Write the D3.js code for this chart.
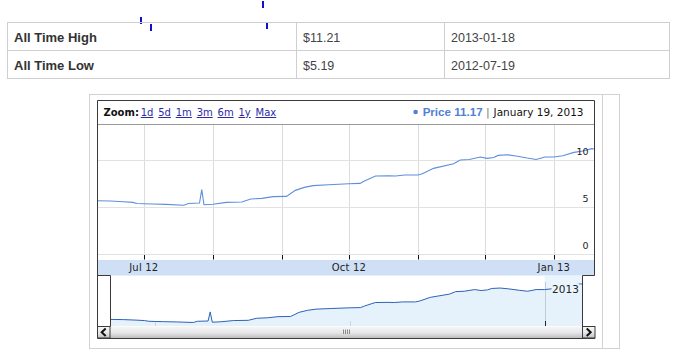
<!DOCTYPE html>
<html>
<head>
<meta charset="utf-8">
<script src="https://cdn.jsdelivr.net/npm/d3@7"></script>
<style>
  body { margin: 0; background: #fff; }
  svg { display: block; }
  text { font-family: "DejaVu Sans", Verdana, sans-serif; }
</style>
</head>
<body>
<svg id="chart" width="685" height="361"></svg>
<script>
// stats table
var statLabels = ["All Time High", "All Time Low"];
var statValues = ["$11.21", "$5.19"];
var statDates = ["2013-01-18", "2012-07-19"];

// price series
var priceDates = ["2012-06-10","2012-06-16","2012-06-22","2012-06-26","2012-06-28","2012-07-01","2012-07-05",
  "2012-07-11","2012-07-19","2012-07-21","2012-07-26","2012-07-27","2012-07-28","2012-08-01","2012-08-07",
  "2012-08-14","2012-08-18","2012-08-23","2012-08-28","2012-09-03","2012-09-07","2012-09-11","2012-09-15",
  "2012-09-22","2012-10-01","2012-10-06","2012-10-08","2012-10-13","2012-10-19","2012-10-22","2012-10-26",
  "2012-11-01","2012-11-03","2012-11-08","2012-11-17","2012-11-20","2012-11-24","2012-11-29","2012-12-02",
  "2012-12-05","2012-12-07","2012-12-11","2012-12-15","2012-12-20","2012-12-24","2012-12-28","2013-01-01",
  "2013-01-05","2013-01-10","2013-01-14","2013-01-18","2013-01-19"];
var priceValues = [5.67,5.64,5.56,5.49,5.38,5.35,5.32,
  5.28,5.19,5.38,5.42,6.84,5.24,5.30,5.49,
  5.53,5.85,5.92,6.10,6.13,6.77,7.09,7.27,
  7.37,7.48,7.51,7.77,8.30,8.33,8.30,8.40,
  8.40,8.54,9.11,9.61,10.00,10.06,10.32,10.17,
  10.27,10.49,10.56,10.43,10.21,10.06,10.32,10.32,
  10.46,10.81,10.96,11.21,11.17];
var yTicks = [0, 5, 10];
var zoomLinks = ["1d", "5d", "1m", "3m", "6m", "1y", "Max"];
var legendName = "Price";
var legendValue = "11.17";
var legendDate = "January 19, 2013";

var parse = d3.timeParse("%Y-%m-%d");
var data = priceDates.map((d, i) => ({date: parse(d), value: priceValues[i]}));

var svg = d3.select("#chart");
var px = v => Math.round(v) + 0.5;

//Stray blue marks above the table
[[140, 17], [150, 24], [262, 1], [266, 22]].forEach(p => {
    svg.append("rect").attr("x", p[0]).attr("y", p[1]).attr("width", 2).attr("height", 7).attr("fill", "#1010d0");
});

//Table
var table = {left: 7.5, right: 669.5, top: 22.5, rowH: 28, cols: [296.5, 444.5]};
var tg = svg.append("g");
tg.append("rect").attr("x", table.left).attr("y", table.top)
    .attr("width", table.right - table.left).attr("height", table.rowH * 2)
    .attr("fill", "none").attr("stroke", "#cfcfcf");
tg.append("line").attr("x1", table.left).attr("x2", table.right)
    .attr("y1", table.top + table.rowH).attr("y2", table.top + table.rowH).attr("stroke", "#cfcfcf");
table.cols.forEach(c => tg.append("line").attr("x1", c).attr("x2", c)
    .attr("y1", table.top).attr("y2", table.top + table.rowH * 2).attr("stroke", "#cfcfcf"));
statLabels.forEach((l, i) => {
    var y = table.top + table.rowH * i + 19.5;
    tg.append("text").attr("x", 14).attr("y", y).text(l)
        .style("font-family", "'Liberation Sans', Arial, sans-serif").style("font-weight", "bold")
        .style("font-size", "13px").attr("fill", "#333");
    tg.append("text").attr("x", 303).attr("y", y).text(statValues[i])
        .style("font-family", "'Liberation Sans', Arial, sans-serif").style("font-size", "12.5px").attr("fill", "#444");
    tg.append("text").attr("x", 451).attr("y", y).text(statDates[i])
        .style("font-family", "'Liberation Sans', Arial, sans-serif").style("font-size", "12.5px").attr("fill", "#444");
});

//Outer frame
svg.append("rect").attr("x", 89.5).attr("y", 94.5).attr("width", 530).attr("height", 254)
    .attr("fill", "none").attr("stroke", "#d2d2d2");
svg.append("line").attr("x1", 602.5).attr("x2", 602.5).attr("y1", 94.5).attr("y2", 348.5).attr("stroke", "#d2d2d2");

//Main chart dims
var dims = {left: 97, right: 594, top: 124, bottom: 254, bandTop: 260, bandBottom: 275.5};

var xScale = d3.scaleTime()
    .domain([parse("2012-06-10"), parse("2013-01-19")])
    .range([dims.left, dims.right]);
var yScale = d3.scaleLinear().domain([0, 10]).range([254, 160]);

//Gridlines
var months = xScale.ticks(d3.timeMonth.every(1));
svg.append("g").selectAll("line").data(months).enter().append("line")
    .attr("x1", d => px(xScale(d))).attr("x2", d => px(xScale(d)))
    .attr("y1", dims.top).attr("y2", dims.bottom)
    .attr("stroke", "#dcdcdc");
svg.append("g").selectAll("line").data(yTicks).enter().append("line")
    .attr("x1", dims.left).attr("x2", dims.right + 1)
    .attr("y1", d => px(yScale(d))).attr("y2", d => px(yScale(d)))
    .attr("stroke", "#e2e2e2");

//Price line
svg.append("defs").append("clipPath").attr("id", "plotclip")
    .append("rect").attr("x", dims.left).attr("y", dims.top).attr("width", dims.right - dims.left + 1).attr("height", dims.bottom - dims.top);
svg.append("path").datum(data)
    .attr("clip-path", "url(#plotclip)")
    .attr("fill", "none").attr("stroke", "#5f8edb").attr("stroke-width", 1.1)
    .attr("d", d3.line().x(d => xScale(d.date)).y(d => yScale(d.value)));

//Y labels
svg.append("g").selectAll("text").data(yTicks).enter().append("text")
    .attr("x", 588.5).attr("y", d => yScale(d) - 5)
    .attr("text-anchor", "end").style("font-size", "9.5px").attr("fill", "#222")
    .text(d => d);

//Axis band + ticks
svg.append("rect").attr("x", dims.left + 1).attr("y", dims.bandTop)
    .attr("width", dims.right - dims.left).attr("height", dims.bandBottom - dims.bandTop)
    .attr("fill", "#cfe0f6");
svg.append("g").selectAll("line").data(months).enter().append("line")
    .attr("x1", d => px(xScale(d))).attr("x2", d => px(xScale(d)))
    .attr("y1", 255).attr("y2", 259.5).attr("stroke", "#111");
var fmt = d3.timeFormat("%b %y");
svg.append("g").selectAll("text").data(months.filter(d => d.getMonth() % 3 === 0)).enter().append("text")
    .attr("x", d => xScale(d)).attr("y", 271)
    .attr("text-anchor", "middle").style("font-size", "10px").style("letter-spacing", "0.2px").attr("fill", "#222")
    .text(fmt);

//Toolbar
svg.append("line").attr("x1", 97.5).attr("x2", 594.5).attr("y1", 124.5).attr("y2", 124.5).attr("stroke", "#999");
svg.append("text").attr("x", 103.5).attr("y", 116).style("font-size", "10px")
    .style("font-weight", "bold").attr("fill", "#111").text("Zoom:");
var zx = 140.7;
zoomLinks.forEach(z => {
    var t = svg.append("text").attr("x", zx).attr("y", 116).style("font-size", "10px")
        .style("text-decoration", "underline").attr("fill", "#2b2ba8").text(z);
    zx += t.node().getComputedTextLength() + 4.8;
});

//Legend (laid out right to left)
var lg = svg.append("g");
var dateText = lg.append("text").attr("x", 583.5).attr("y", 116).attr("text-anchor", "end")
    .style("font-size", "10.5px").attr("fill", "#111").text(legendDate);
var dx = 583.5 - dateText.node().getComputedTextLength();
lg.append("text").attr("x", dx - 4).attr("y", 116).attr("text-anchor", "end")
    .style("font-size", "11px").attr("fill", "#777").text("|");
var priceText = lg.append("text").attr("x", dx - 11).attr("y", 116).attr("text-anchor", "end")
    .style("font-family", "'Liberation Sans', Arial, sans-serif").style("font-weight", "bold")
    .style("font-size", "11.6px").attr("fill", "#4f80d8").text(legendName + " " + legendValue);
lg.append("circle").attr("cx", dx - 11 - priceText.node().getComputedTextLength() - 7).attr("cy", 112)
    .attr("r", 2.3).attr("fill", "#4f80d8");

//Overview
var ov = {left: 110.7, right: 582.7, top: 276, bottom: 326};
var xOv = d3.scaleTime().domain(xScale.domain()).range([ov.left, ov.right]);
var yOv = d3.scaleLinear().domain([4.8, 11.5]).range([325, 282]);
var jan = parse("2013-01-01");
svg.append("rect").attr("x", xOv(jan)).attr("y", ov.top)
    .attr("width", ov.right - xOv(jan)).attr("height", ov.bottom - ov.top).attr("fill", "#eaf4fc");
svg.append("path").datum(data).attr("fill", "#e5f1fb")
    .attr("d", d3.area().x(d => xOv(d.date)).y0(ov.bottom).y1(d => yOv(d.value)));
svg.append("g").selectAll("line").data(months.filter(d => d.getMonth() % 3 === 0 && d.getMonth() !== 0)).enter().append("line")
    .attr("x1", d => px(xOv(d))).attr("x2", d => px(xOv(d)))
    .attr("y1", 321).attr("y2", 326).attr("stroke", "#c8d4e0");
svg.append("line").attr("x1", px(xOv(jan))).attr("x2", px(xOv(jan))).attr("y1", 282).attr("y2", 326).attr("stroke", "#c4ccd6");
svg.append("line").attr("x1", px(xOv(jan))).attr("x2", px(xOv(jan))).attr("y1", 321).attr("y2", 326).attr("stroke", "#222");
svg.append("path").datum(data).attr("fill", "none").attr("stroke", "#2d63b8").attr("stroke-width", 1)
    .attr("d", d3.line().x(d => xOv(d.date)).y(d => yOv(d.value)));
var yl = svg.append("g");
var ylText = yl.append("text").attr("x", xOv(jan) + 7.5).attr("y", 292.5)
    .style("font-size", "10.5px").attr("fill", "#222").text(d3.timeFormat("%Y")(jan));
var ylw = ylText.node().getComputedTextLength();
yl.insert("rect", "text").attr("x", xOv(jan) + 7).attr("y", 284).attr("width", ylw + 1).attr("height", 10).attr("fill", "#eaf4fc");

//Scrollbar
var grad = svg.select("defs").append("linearGradient").attr("id", "sb").attr("x1", 0).attr("x2", 0).attr("y1", 0).attr("y2", 1);
grad.append("stop").attr("offset", "0%").attr("stop-color", "#f7f7f7");
grad.append("stop").attr("offset", "55%").attr("stop-color", "#e6e6e8");
grad.append("stop").attr("offset", "100%").attr("stop-color", "#bdbdc2");
svg.append("rect").attr("x", 97.5).attr("y", 326.5).attr("width", 497).attr("height", 11.5)
    .attr("fill", "url(#sb)");
svg.append("g").selectAll("line").data(d3.range(4)).enter().append("line")
    .attr("x1", d => 343.5 + d * 2).attr("x2", d => 343.5 + d * 2)
    .attr("y1", 329.5).attr("y2", 334).attr("stroke", "#8a8a8a");
[97.5, 582.5].forEach((bx, i) => {
    svg.append("rect").attr("x", bx).attr("y", 326.5).attr("width", 12.5).attr("height", 11.5)
        .attr("fill", "url(#sb)").attr("stroke", "#3a3a3a");
    var cx = bx + 6.2;
    var d = i === 0 ? `M${cx + 2},${328.5} L${cx - 2},${332.2} L${cx + 2},${336}` : `M${cx - 2},${328.5} L${cx + 2},${332.2} L${cx - 2},${336}`;
    svg.append("path").attr("d", d).attr("fill", "none").attr("stroke", "#111").attr("stroke-width", 2);
});
svg.append("line").attr("x1", 97.5).attr("x2", 595).attr("y1", 338.5).attr("y2", 338.5).attr("stroke", "#3a3a3a");

//Dark outline of the chart component
svg.append("path").attr("fill", "none").attr("stroke", "#3a3a3a")
    .attr("d", "M97.5,326.5 V100.5 H594.5 V275.5 H582.5 V326.5 M97.5,275.5 H110.5 V326.5");
</script>
</body>
</html>
